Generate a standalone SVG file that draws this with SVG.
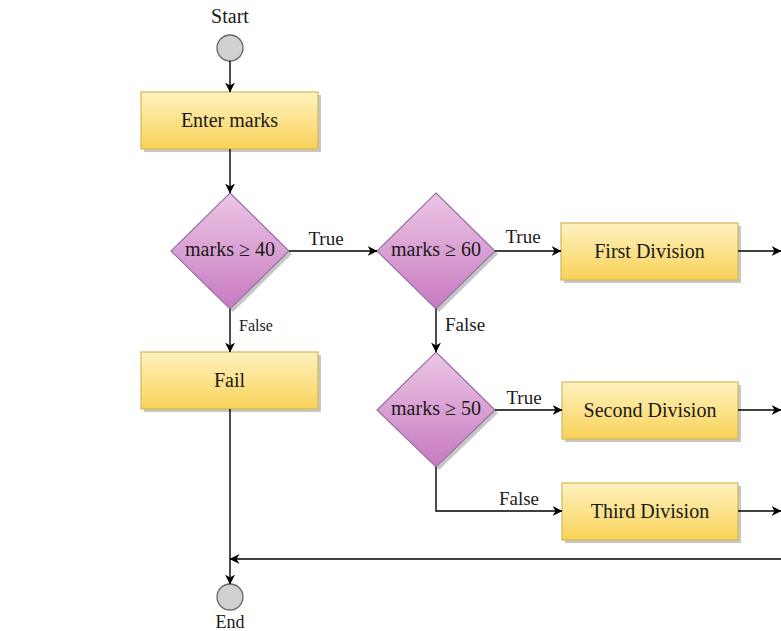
<svg xmlns="http://www.w3.org/2000/svg" width="781" height="631" viewBox="0 0 781 631">
<style>
text{font-family:"Liberation Serif","Times New Roman",serif;fill:#1a1a1a}
.lbl{font-size:20px;text-anchor:middle;dominant-baseline:central}
.el{font-size:19px}
.box{fill:url(#yel);stroke:#d6b656;stroke-width:1.2}
.dia{fill:url(#pur);stroke:#9673a6;stroke-width:1.2}
.shd{fill:#000;opacity:0.22}
.term{fill:#d0d0d0;stroke:#666;stroke-width:1.3}
.con{fill:none;stroke:#000;stroke-width:1.4}
</style>
<defs>
<linearGradient id="yel" x1="0" y1="0" x2="0" y2="1">
<stop offset="0" stop-color="#fff2c0"/>
<stop offset="1" stop-color="#f8d257"/>
</linearGradient>
<linearGradient id="pur" x1="0" y1="0" x2="0" y2="1">
<stop offset="0" stop-color="#ecc6e6"/>
<stop offset="1" stop-color="#c77ac0"/>
</linearGradient>
<marker id="arr" viewBox="0 0 10 10" refX="9.5" refY="5" markerWidth="10" markerHeight="10" markerUnits="userSpaceOnUse" orient="auto">
<path d="M0,0 L10,5 L0,10 L3,5 z" fill="#000"/>
</marker>
</defs>

<g id="start">
<text x="230" y="23" font-size="20" text-anchor="middle">Start</text>
<circle class="term" cx="230" cy="48" r="13"/>
</g>

<g id="enter">
<rect class="shd" x="144" y="95" width="177" height="57"/>
<rect class="box" x="141" y="92" width="177" height="57"/>
<text class="lbl" x="229.5" y="119.5">Enter marks</text>
</g>

<g id="d1">
<polygon class="shd" points="233,196 292,254 233,312 174,254"/>
<polygon class="dia" points="230,193 289,251 230,309 171,251"/>
<text class="lbl" x="230" y="249">marks ≥ 40</text>
</g>

<g id="d2">
<polygon class="shd" points="439,196 498,254 439,312 380,254"/>
<polygon class="dia" points="436,193 495,251 436,309 377,251"/>
<text class="lbl" x="436" y="249">marks ≥ 60</text>
</g>

<g id="first">
<rect class="shd" x="564" y="226" width="177" height="57"/>
<rect class="box" x="561" y="223" width="177" height="57"/>
<text class="lbl" x="649.5" y="250.5">First Division</text>
</g>

<g id="fail">
<rect class="shd" x="144" y="355" width="177" height="57"/>
<rect class="box" x="141" y="352" width="177" height="57"/>
<text class="lbl" x="229.5" y="379.5">Fail</text>
</g>

<g id="d3">
<polygon class="shd" points="439,355 498,413 439,470 380,413"/>
<polygon class="dia" points="436,352 495,410 436,467 377,410"/>
<text class="lbl" x="436" y="408">marks ≥ 50</text>
</g>

<g id="second">
<rect class="shd" x="565" y="385" width="176" height="57"/>
<rect class="box" x="562" y="382" width="176" height="57"/>
<text class="lbl" x="650" y="409.5">Second Division</text>
</g>

<g id="third">
<rect class="shd" x="565" y="486" width="176" height="57"/>
<rect class="box" x="562" y="483" width="176" height="57"/>
<text class="lbl" x="650" y="510.5">Third Division</text>
</g>

<g id="end">
<circle class="term" cx="230" cy="597" r="13"/>
<text x="230" y="628" font-size="18" text-anchor="middle">End</text>
</g>

<g id="connectors">
<path class="con" d="M230,61 V92" marker-end="url(#arr)"/>
<path class="con" d="M230,149 V193" marker-end="url(#arr)"/>
<path class="con" d="M289,251 H377" marker-end="url(#arr)"/>
<text class="el" x="326" y="245" text-anchor="middle">True</text>
<path class="con" d="M495,251 H561" marker-end="url(#arr)"/>
<text class="el" x="523" y="243" text-anchor="middle">True</text>
<path class="con" d="M738,251 H781" stroke-width="2" marker-end="url(#arr)"/>
<path class="con" d="M230,309 V352" marker-end="url(#arr)"/>
<text x="256" y="331" font-size="16" text-anchor="middle">False</text>
<path class="con" d="M436,309 V352" marker-end="url(#arr)"/>
<text class="el" x="445" y="331">False</text>
<path class="con" d="M495,410 H562" marker-end="url(#arr)"/>
<text class="el" x="524" y="404" text-anchor="middle">True</text>
<path class="con" d="M738,410 H781" marker-end="url(#arr)"/>
<path class="con" d="M436,467 V511 H562" marker-end="url(#arr)"/>
<text class="el" x="519" y="505" text-anchor="middle">False</text>
<path class="con" d="M738,511 H781" marker-end="url(#arr)"/>
<path class="con" d="M781,559 H230" stroke="#333" marker-end="url(#arr)"/>
<path class="con" d="M230,409 V584" marker-end="url(#arr)"/>
</g>
</svg>
